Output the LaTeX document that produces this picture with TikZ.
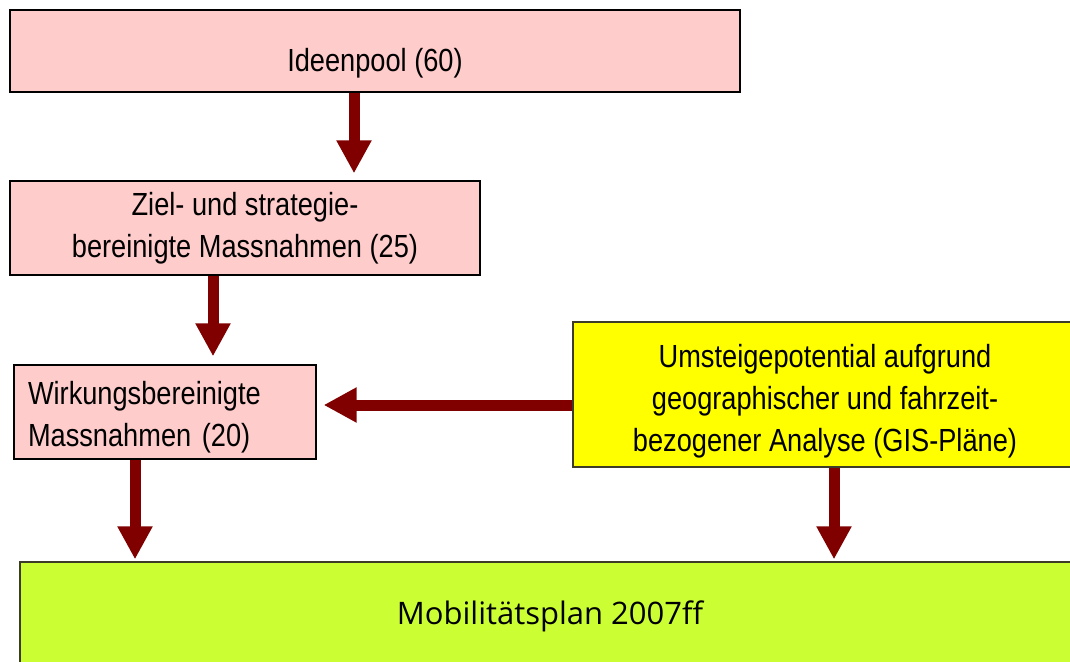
\documentclass[tikz,border=0pt]{standalone}
\usepackage{fontspec}
\setmainfont{Liberation Sans}[FakeStretch=0.85]
\newfontfamily\planfont{Open Sans}
\usetikzlibrary{arrows.meta}

\definecolor{boxpink}{HTML}{FFCCCC}
\definecolor{boxyellow}{HTML}{FFFF00}
\definecolor{boxgreen}{HTML}{CCFF33}
\definecolor{flowred}{HTML}{800000}
\definecolor{edgegrey}{HTML}{3C3C28}

\begin{document}
\begin{tikzpicture}[x=1pt, y=-1pt,
    font=\fontsize{32}{42}\selectfont,
    box/.style={draw=black, line width=1.3pt, inner sep=0pt, align=center},
    flow/.style={draw=flowred, line width=11pt, shorten <=0.7pt,
                 -{Triangle[width=33pt,length=33pt]}}]
            % page frame
            \useasboundingbox (0,0) rectangle (1070,661);
            \clip (0,0) rectangle (1070,661);

            % boxes
            \node[box, fill=boxpink, minimum width=730pt, minimum height=82pt,
                  text height=48pt, text depth=7pt] (ideen) at (375,51) {Ideenpool (60)};
            \node[box, fill=boxpink, minimum width=470pt, minimum height=94pt] (ziel) at (245,228)
                {Ziel- und strategie-\\bereinigte Massnahmen (25)};
            \node[box, fill=boxpink, minimum height=94pt, inner xsep=14pt, text width=274pt,
                  align=left] (wirkung) at (165,412)
                {\rule{0pt}{34pt}Wirkungsbereinigte\\Massnahmen (20)};
            \node[box, draw=edgegrey, fill=boxyellow, minimum width=504pt, minimum height=145pt] (umstieg) at (825,394.5)
                {\rule{0pt}{36pt}Umsteigepotential aufgrund\\geographischer und fahrzeit-\\bezogener Analyse (GIS-Pläne)};
            \node[box, draw=edgegrey, fill=boxgreen, minimum width=1060pt, minimum height=108pt,
                  font=\planfont\fontsize{31}{36}\selectfont] (plan) at (550,616) {Mobilitätsplan 2007ff};

            % arrows
            \draw[flow, shorten >=7pt] (354,0 |- ideen.south) -- (354,0 |- ziel.north);
            \draw[flow, shorten >=8pt] (213,0 |- ziel.south) -- (213,0 |- wirkung.north);
            \draw[flow, shorten >=7pt] (umstieg.west |- 0,405) -- (wirkung.east |- 0,405);
            \draw[flow, shorten >=2pt] (135,0 |- wirkung.south) -- (135,0 |- plan.north);
            \draw[flow, shorten >=2pt] (834,0 |- umstieg.south) -- (834,0 |- plan.north);

        \end{tikzpicture}
\end{document}
